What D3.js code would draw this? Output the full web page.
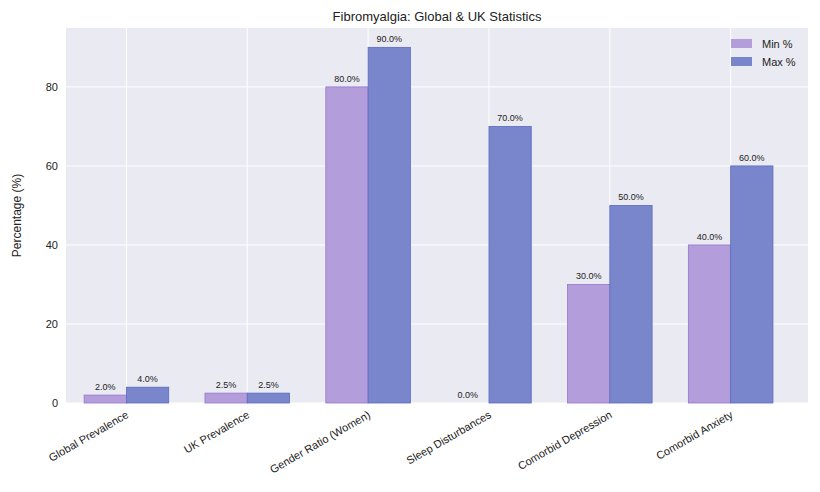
<!DOCTYPE html>
<html><head><meta charset="utf-8">
<script src="https://cdn.jsdelivr.net/npm/d3@7"></script>
<style>body{margin:0;background:#fff;font-family:"Liberation Sans",Arial,sans-serif}</style>
</head><body><svg id="c" width="820" height="492"></svg>
<script>
const categories=["Global Prevalence","UK Prevalence","Gender Ratio (Women)","Sleep Disturbances","Comorbid Depression","Comorbid Anxiety"];
const minVals=[2.0,2.5,80.0,0.0,30.0,40.0];
const maxVals=[4.0,2.5,90.0,70.0,50.0,60.0];
const yTicks=[0,20,40,60,80];
const svg=d3.select("#c");
const L=66,R=808,T=28,B=403;
const x=d3.scaleLinear().domain([-0.5,5.64]).range([L,R]);
const y=d3.scaleLinear().domain([0,94.9]).range([B,T]);
svg.append("rect").attr("x",L).attr("y",T).attr("width",R-L).attr("height",B-T).attr("fill","#eaeaf2");
const g=svg.append("g");
yTicks.forEach(t=>g.append("line").attr("x1",L).attr("x2",R).attr("y1",y(t)).attr("y2",y(t)).attr("stroke","#fff").attr("stroke-width",1));
categories.forEach((c,i)=>g.append("line").attr("x1",x(i)).attr("x2",x(i)).attr("y1",T).attr("y2",B).attr("stroke","#fff").attr("stroke-width",1));
const w=0.35;
const series=[{v:minVals,off:-w/2,col:"#b39ddb",st:"#9575cd"},{v:maxVals,off:w/2,col:"#7986cb",st:"#5c6bc0"}];
series.forEach(s=>{
 s.v.forEach((v,i)=>{
  g.append("rect").attr("x",x(i+s.off-w/2)).attr("width",x(w)-x(0)).attr("y",y(v)).attr("height",y(0)-y(v))
   .attr("fill",s.col).attr("stroke",s.st).attr("stroke-width",0.8);
  g.append("text").attr("x",x(i+s.off)).attr("y",y(v)-5).attr("text-anchor","middle").attr("font-size",9).attr("fill","#222").text(v.toFixed(1)+"%");
 });
});
yTicks.forEach(t=>svg.append("text").attr("x",L-8).attr("y",y(t)+4).attr("text-anchor","end").attr("font-size",11).attr("fill","#222").text(t));
categories.forEach((c,i)=>svg.append("text").attr("transform",`translate(${x(i)+3},${B+14}) rotate(-30)`).attr("text-anchor","end").attr("font-size",11).attr("fill","#222").text(c));
svg.append("text").attr("transform",`translate(21,${(T+B)/2}) rotate(-90)`).attr("text-anchor","middle").attr("font-size",12).attr("fill","#222").text("Percentage (%)");
svg.append("text").attr("x",(L+R)/2).attr("y",21).attr("text-anchor","middle").attr("font-size",13).attr("fill","#222").text("Fibromyalgia: Global & UK Statistics");
const lg=[{t:"Min %",c:"#b39ddb"},{t:"Max %",c:"#7986cb"}];
lg.forEach((d,i)=>{
 svg.append("rect").attr("x",731).attr("y",39+i*18).attr("width",21).attr("height",9).attr("fill",d.c);
 svg.append("text").attr("x",762).attr("y",48+i*18).attr("font-size",11).attr("fill","#222").text(d.t);
});
</script></body></html>
